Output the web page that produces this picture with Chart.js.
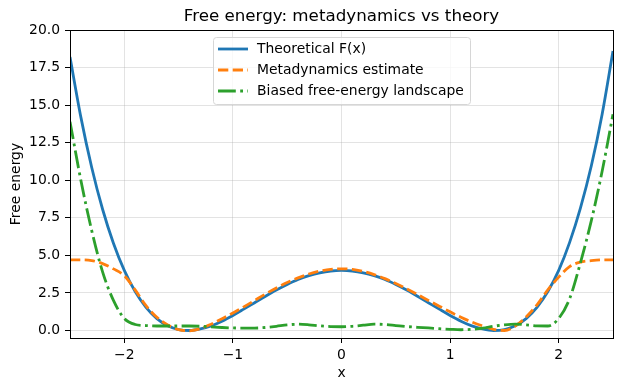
<!DOCTYPE html>
<html>
<head>
<meta charset="utf-8">
<script src="https://cdn.jsdelivr.net/npm/chart.js@4.4.1/dist/chart.umd.min.js"></script>
<style>
  html, body { margin: 0; padding: 0; background: #fff; }
  #wrap { width: 622px; height: 391px; }
</style>
</head>
<body>
<div id="wrap"><canvas id="chart-fe" width="622" height="391"></canvas></div>
<script>
// values, x step 0.1
const xs = [-2.5, -2.4, -2.3, -2.2, -2.1, -2.0, -1.9, -1.8, -1.7, -1.6, -1.5, -1.4, -1.3, -1.2, -1.1, -1.0,
    -0.9, -0.8, -0.7, -0.6, -0.5, -0.4, -0.3, -0.2, -0.1, 0.0, 0.1, 0.2, 0.3, 0.4, 0.5, 0.6, 0.7, 0.8, 0.9,
    1.0, 1.1, 1.2, 1.3, 1.4, 1.5, 1.6, 1.7, 1.8, 1.9, 2.0, 2.1, 2.2, 2.3, 2.4, 2.5];

const theory = [18.2, 14.2, 10.85, 8.07, 5.81, 4.0, 2.59, 1.54, 0.79, 0.31, 0.06, 0.0, 0.1, 0.31, 0.62, 1.0,
    1.42, 1.85, 2.28, 2.69, 3.06, 3.39, 3.65, 3.84, 3.96, 4.0, 3.96, 3.84, 3.65, 3.39, 3.06, 2.69, 2.28, 1.85, 1.42,
    1.0, 0.62, 0.31, 0.1, 0.0, 0.06, 0.31, 0.79, 1.54, 2.59, 4.0, 5.85, 8.15, 10.95, 14.4, 18.6];

const metad = [4.7, 4.7, 4.65, 4.45, 4.1, 3.65, 2.7, 1.65, 0.88, 0.36, 0.06, -0.02, 0.12, 0.42, 0.78, 1.17,
    1.57, 2.0, 2.43, 2.83, 3.2, 3.5, 3.76, 3.95, 4.07, 4.1, 4.07, 3.93, 3.72, 3.45, 3.13, 2.78, 2.4, 2.0, 1.62,
    1.24, 0.88, 0.56, 0.3, 0.08, 0.0, 0.3, 0.9, 1.7, 2.7, 3.55, 4.25, 4.55, 4.65, 4.7, 4.7];

const biased = [13.9, 10.0, 6.65, 3.9, 2.0, 0.8, 0.4, 0.33, 0.3, 0.3, 0.3, 0.3, 0.28, 0.24, 0.2, 0.17,
    0.16, 0.16, 0.2, 0.28, 0.37, 0.42, 0.38, 0.31, 0.26, 0.25, 0.28, 0.35, 0.42, 0.4, 0.33, 0.26, 0.21, 0.17, 0.12,
    0.08, 0.05, 0.08, 0.15, 0.28, 0.38, 0.43, 0.38, 0.31, 0.3, 0.8, 2.1, 4.5, 7.3, 10.6, 14.4];

const xTicks = [-2, -1, 0, 1, 2];
const yTicks = [0, 2.5, 5, 7.5, 10, 12.5, 15, 17.5, 20];

const FONT = '"DejaVu Sans", sans-serif';
const FS = 13.9;

function pts(ys) {
    return xs.map((x, i) => ({ x: x, y: ys[i] }));
}

// matplotlib-like frame, title, axis labels and legend box
const decorations = {
    id: 'decorations',
    afterDraw(chart) {
        const ctx = chart.ctx;
        const a = chart.chartArea;
        ctx.save();
        ctx.strokeStyle = '#000';
        ctx.lineWidth = 1;
        ctx.strokeRect(Math.round(a.left) + 0.5, Math.round(a.top) + 0.5,
            Math.round(a.right - a.left), Math.round(a.bottom - a.top));

        ctx.fillStyle = '#000';
        ctx.textAlign = 'center';
        ctx.textBaseline = 'middle';
        ctx.font = '16.7px ' + FONT;
        ctx.fillText('Free energy: metadynamics vs theory', (a.left + a.right) / 2, 17);

        ctx.font = FS + 'px ' + FONT;
        ctx.fillText('x', (a.left + a.right) / 2, 373);
        ctx.translate(16, (a.top + a.bottom) / 2);
        ctx.rotate(-Math.PI / 2);
        ctx.fillText('Free energy', 0, 0);
        ctx.restore();

        // legend
        ctx.save();
        const bx = 213.5, by = 37.5, bw = 257, bh = 67, r = 3;
        ctx.beginPath();
        ctx.moveTo(bx + r, by);
        ctx.arcTo(bx + bw, by, bx + bw, by + bh, r);
        ctx.arcTo(bx + bw, by + bh, bx, by + bh, r);
        ctx.arcTo(bx, by + bh, bx, by, r);
        ctx.arcTo(bx, by, bx + bw, by, r);
        ctx.closePath();
        ctx.fillStyle = 'rgba(255,255,255,0.8)';
        ctx.fill();
        ctx.strokeStyle = '#d6d6d6';
        ctx.lineWidth = 1;
        ctx.stroke();

        ctx.font = FS + 'px ' + FONT;
        ctx.textAlign = 'left';
        ctx.textBaseline = 'middle';
        chart.data.datasets.forEach((ds, i) => {
            const yy = 49 + i * 21;
            ctx.beginPath();
            ctx.setLineDash(ds.borderDash || []);
            ctx.strokeStyle = ds.borderColor;
            ctx.lineWidth = ds.borderWidth;
            ctx.moveTo(218, yy);
            ctx.lineTo(248, yy);
            ctx.stroke();
            ctx.setLineDash([]);
            ctx.fillStyle = '#000';
            ctx.fillText(ds.label, 257, yy);
        });
        ctx.restore();
    }
};

const ctx = document.getElementById('chart-fe');
const feChart = new Chart(ctx, {
    type: 'line',
    data: {
        datasets: [{
            label: 'Theoretical F(x)',
            data: pts(theory),
            borderColor: '#1f77b4',
            borderWidth: 2.8,
            pointRadius: 0,
            cubicInterpolationMode: 'monotone',
            order: 3
        }, {
            label: 'Metadynamics estimate',
            data: pts(metad),
            borderColor: '#ff7f0e',
            borderWidth: 2.8,
            borderDash: [10.3, 4.4],
            pointRadius: 0,
            cubicInterpolationMode: 'monotone',
            order: 2
        }, {
            label: 'Biased free-energy landscape',
            data: pts(biased),
            borderColor: '#2ca02c',
            borderWidth: 2.8,
            borderDash: [17.8, 4.4, 2.8, 4.4],
            pointRadius: 0,
            cubicInterpolationMode: 'monotone',
            order: 1
        }]
    },
    options: {
        responsive: false,
        animation: false,
        devicePixelRatio: 1,
        layout: {
            padding: { top: 30, right: 9, left: 0, bottom: 0 }
        },
        plugins: {
            legend: { display: false },
            title: { display: false },
            tooltip: { enabled: false }
        },
        scales: {
            x: {
                type: 'linear',
                min: -2.5,
                max: 2.5,
                afterBuildTicks: scale => { scale.ticks = xTicks.map(v => ({ value: v })); },
                afterFit: scale => { scale.height = 53; },
                ticks: {
                    color: '#000',
                    padding: 4,
                    font: { family: FONT, size: FS },
                    callback: v => (v < 0 ? '\u2212' + Math.abs(v) : String(v))
                },
                grid: {
                    color: 'rgba(176, 176, 176, 0.35)',
                    tickColor: '#000',
                    tickLength: 5
                },
                border: { color: '#000', width: 1 }
            },
            y: {
                type: 'linear',
                min: -0.5,
                max: 20,
                afterBuildTicks: scale => { scale.ticks = yTicks.map(v => ({ value: v })); },
                afterFit: scale => { scale.width = 70; },
                ticks: {
                    color: '#000',
                    padding: 5,
                    font: { family: FONT, size: FS },
                    callback: v => v.toFixed(1)
                },
                grid: {
                    color: 'rgba(176, 176, 176, 0.35)',
                    tickColor: '#000',
                    tickLength: 5
                },
                border: { color: '#000', width: 1 }
            }
        }
    },
    plugins: [decorations]
});
</script>
</body>
</html>
